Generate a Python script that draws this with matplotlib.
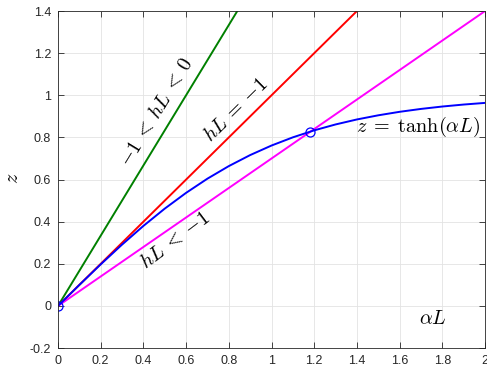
import matplotlib
matplotlib.use("Agg")
import matplotlib.pyplot as plt

plt.rcParams['font.family'] = ['Liberation Sans', 'DejaVu Sans']
plt.rcParams['mathtext.fontset'] = 'cm'

# straight lines z = k * alphaL for the three hL cases
x_line = [0, 2]
k_green = 1.667   # -1 < hL < 0
k_red = 1.0       # hL = -1
k_magenta = 0.7   # hL < -1

# z = tanh(alphaL)
x_curve = [0, 0.1, 0.2, 0.3, 0.4, 0.5, 0.6, 0.7, 0.8, 0.9, 1.0,
           1.1, 1.2, 1.3, 1.4, 1.5, 1.6, 1.7, 1.8, 1.9, 2.0]
z_curve = [0, 0.0997, 0.1974, 0.2913, 0.3800, 0.4621, 0.5370, 0.6044,
           0.6640, 0.7163, 0.7616, 0.8005, 0.8337, 0.8617, 0.8854,
           0.9051, 0.9217, 0.9354, 0.9468, 0.9562, 0.9640]

# intersection points
x_pts = [0, 1.18]
z_pts = [0, 0.827]

fig = plt.figure(figsize=(4.87, 3.68), dpi=100)
ax = fig.add_axes([0.119, 0.054, 0.877, 0.916])

ax.plot(x_line, [k_green * v for v in x_line], color='#008000', lw=1.4)
ax.plot(x_line, [k_red * v for v in x_line], color='#ff0000', lw=1.4)
ax.plot(x_line, [k_magenta * v for v in x_line], color='#ff00ff', lw=1.4)
ax.plot(x_curve, z_curve, color='#0000ff', lw=1.4)
ax.plot(x_pts, z_pts, 'o', mfc='none', mec='#0000ff', ms=6.5, mew=0.9)

ax.set_xlim(0, 2)
ax.set_ylim(-0.2, 1.4)
ax.set_xticks([0, 0.2, 0.4, 0.6, 0.8, 1, 1.2, 1.4, 1.6, 1.8, 2])
ax.set_xticklabels(['0', '0.2', '0.4', '0.6', '0.8', '1', '1.2', '1.4', '1.6', '1.8', '2'])
ax.set_yticks([-0.2, 0, 0.2, 0.4, 0.6, 0.8, 1, 1.2, 1.4])
ax.set_yticklabels(['-0.2', '0', '0.2', '0.4', '0.6', '0.8', '1', '1.2', '1.4'])
ax.tick_params(direction='in', top=True, right=True, length=4, width=0.6,
               labelsize=9, colors='#262626', pad=5)
ax.grid(True, color='#e3e3e3', lw=0.6)
ax.set_axisbelow(True)
for s in ax.spines.values():
    s.set_color('#262626')
    s.set_linewidth(0.6)

fs = 14.5
ax.text(0.464, 0.92, r'$-1\: <\: hL\: <\: 0$', rotation=58.7, fontsize=fs,
        ha='center', va='center', rotation_mode='anchor')
ax.text(0.834, 0.93, r'$hL\: =\: -1$', rotation=44.6, fontsize=fs,
        ha='center', va='center', rotation_mode='anchor')
ax.text(0.548, 0.313, r'$hL\: <\: -1$', rotation=37, fontsize=fs,
        ha='center', va='center', rotation_mode='anchor')
ax.text(1.686, 0.849, r'$z\; =\; \tanh(\alpha L)$', fontsize=fs,
        ha='center', va='center')
ax.text(1.756, -0.058, r'$\alpha L$', fontsize=fs, ha='center', va='center')
fig.text(12 / 487, 1 - 178 / 368, r'$z$', fontsize=fs, rotation=90,
         ha='center', va='center')

fig.savefig('out.png', dpi=100)
